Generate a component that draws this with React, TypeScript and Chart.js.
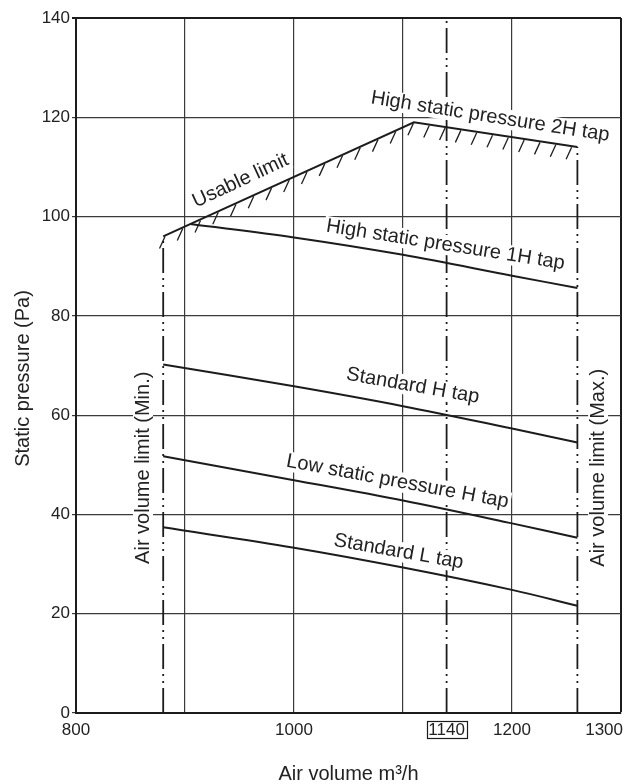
import React, { useEffect, useRef } from 'react';
import { Chart, registerables } from 'chart.js';

Chart.register(...registerables);

const FONT = '"Liberation Sans", Arial, Helvetica, sans-serif';
const INK = '#1c1c1c';
const TEXT = '#222222';
const GRID = '#3a3a3a';

// ---- data ----
const xMin = 800;
const xMax = 1300;
const xTickValues = [800, 900, 1000, 1100, 1140, 1200, 1300];
const xTickLabels = ['800', '', '1000', '', '1140', '1200', '1300'];
const boxedTick = 1140;
const yMin = 0;
const yMax = 140;
const yStep = 20;

const minAirVolume = 880;
const ratedAirVolume = 1140;
const maxAirVolume = 1260;

const usableLimitX = [880, 1110, 1260];
const usableLimitY = [96, 119, 114];

const tap1HX = [905, 1000, 1100, 1200, 1260];
const tap1HY = [98.5, 95.8, 92.3, 88.1, 85.6];

const tapX = [880, 1000, 1100, 1200, 1260];
const standardHY = [70.2, 65.8, 61.8, 57.3, 54.5];
const lowStaticHY = [51.7, 46.9, 42.8, 38.2, 35.3];
const standardLY = [37.4, 33.3, 29.3, 24.8, 21.6];

const curveLabels = [
  'Usable limit',
  'High static pressure 2H tap',
  'High static pressure 1H tap',
  'Standard H tap',
  'Low static pressure H tap',
  'Standard L tap',
  'Air volume limit (Min.)',
  'Air volume limit (Max.)',
];
const xTitle = 'Air volume m\u00B3/h';
const yTitle = 'Static pressure (Pa)';

// ---- layout of the annotation texts (anchor in axis units, angle in degrees) ----
const labelLayout = [
  { x: 951, y: 107.2, angle: -25 },
  { x: 1180, y: 120.1, angle: 9 },
  { x: 1139, y: 94.3, angle: 9 },
  { x: 1109, y: 65.9, angle: 10 },
  { x: 1095, y: 46.6, angle: 10.5 },
  { x: 1096, y: 32.5, angle: 10 },
  { x: 861.5, y: 49.4, angle: -90 },
  { x: 1279, y: 49.4, angle: -90 },
];

const DASH_DOT_DOT = [25, 5, 2, 5, 2, 5];

const pts = (xs: number[], ys: number[]) => xs.map((x, i) => ({ x, y: ys[i] }));

const curve = (xs: number[], ys: number[]) => ({
  data: pts(xs, ys),
  borderColor: INK,
  borderWidth: 2,
  pointRadius: 0,
  fill: false,
  tension: 0.35,
});

const vline = (xv: number, yTop: number) => ({
  data: [
    { x: xv, y: yMin },
    { x: xv, y: yTop },
  ],
  borderColor: INK,
  borderWidth: 1.8,
  borderDash: DASH_DOT_DOT,
  pointRadius: 0,
  fill: false,
  tension: 0,
});

const overlayPlugin = {
  id: 'overlay',
  afterDatasetsDraw(chart: any) {
    const { ctx, scales } = chart;
    const xs = scales.x;
    const ys = scales.y;

    // hatching under the usable limit
    const p = usableLimitX.map((v, i) => ({
      px: xs.getPixelForValue(v),
      py: ys.getPixelForValue(usableLimitY[i]),
    }));
    ctx.save();
    ctx.strokeStyle = INK;
    ctx.lineWidth = 1.3;
    ctx.lineCap = 'butt';
    const spacings = [19.5, 16];
    let start = 2;
    for (let s = 0; s < p.length - 1; s++) {
      const a = p[s];
      const b = p[s + 1];
      const L = Math.hypot(b.px - a.px, b.py - a.py);
      const sp = spacings[s] || 16;
      let d = start;
      for (; d <= L - 1; d += sp) {
        const t = d / L;
        const hx = a.px + (b.px - a.px) * t;
        const hy = a.py + (b.py - a.py) * t;
        ctx.beginPath();
        ctx.moveTo(hx, hy + 1);
        ctx.lineTo(hx - 5.5, hy + 13);
        ctx.stroke();
      }
      start = d - L;
    }
    ctx.restore();

    // annotation texts with white backing
    const size = 20;
    curveLabels.forEach((t, i) => {
      const l = labelLayout[i];
      const px = xs.getPixelForValue(l.x);
      const py = ys.getPixelForValue(l.y);
      ctx.save();
      ctx.translate(px, py);
      ctx.rotate((l.angle * Math.PI) / 180);
      ctx.font = `${size}px ${FONT}`;
      const w = ctx.measureText(t).width;
      ctx.fillStyle = '#ffffff';
      ctx.fillRect(-w / 2 - 2, -size * 0.5, w + 4, size);
      ctx.fillStyle = TEXT;
      ctx.textAlign = 'center';
      ctx.textBaseline = 'middle';
      ctx.fillText(t, 0, 0);
      ctx.restore();
    });
  },
  afterDraw(chart: any) {
    const { ctx, scales, chartArea } = chart;
    const xs = scales.x;
    const tickSize = 17;
    const labelCy = chartArea.bottom + 16.5;

    ctx.save();
    ctx.font = `${tickSize}px ${FONT}`;
    // boxed rated tick label
    const w = ctx.measureText(String(boxedTick)).width;
    const cx = xs.getPixelForValue(boxedTick);
    ctx.strokeStyle = INK;
    ctx.lineWidth = 1.2;
    ctx.strokeRect(Math.round(cx - w / 2 - 1.5) + 0.5, Math.round(labelCy - 8.5) + 0.5, Math.round(w + 3), 17);

    // last tick label, kept inside the picture (right-aligned at the plot edge)
    ctx.fillStyle = TEXT;
    ctx.textAlign = 'right';
    ctx.textBaseline = 'middle';
    ctx.fillText(xTickLabels[xTickLabels.length - 1], xs.getPixelForValue(xMax) + 2, labelCy + 1);
    ctx.restore();

    // axis titles
    ctx.save();
    ctx.fillStyle = TEXT;
    ctx.font = `20px ${FONT}`;
    ctx.textAlign = 'center';
    ctx.textBaseline = 'middle';
    ctx.fillText(xTitle, (chartArea.left + chartArea.right) / 2, chartArea.bottom + 61);
    ctx.translate(23, (chartArea.top + chartArea.bottom) / 2 + 13);
    ctx.rotate(-Math.PI / 2);
    ctx.fillText(yTitle, 0, 0);
    ctx.restore();
  },
};

export default function App() {
  const ref = useRef<HTMLCanvasElement | null>(null);

  useEffect(() => {
    if (!ref.current) return;
    const chart = new Chart(ref.current, {
      type: 'line',
      data: {
        datasets: [
          { ...curve(usableLimitX, usableLimitY), tension: 0 } as any,
          curve(tap1HX, tap1HY),
          curve(tapX, standardHY),
          curve(tapX, lowStaticHY),
          curve(tapX, standardLY),
          vline(minAirVolume, usableLimitY[0]),
          vline(ratedAirVolume, yMax),
          vline(maxAirVolume, usableLimitY[usableLimitY.length - 1]),
        ],
      },
      options: {
        responsive: false,
        animation: false,
        layout: { padding: { left: 0, right: 8, top: 18, bottom: 0 } },
        plugins: {
          legend: { display: false },
          tooltip: { enabled: false },
          title: { display: false },
        },
        scales: {
          x: {
            type: 'linear',
            min: xMin,
            max: xMax,
            afterBuildTicks: (s: any) => {
              s.ticks = xTickValues.map((v) => ({ value: v }));
            },
            afterFit: (s: any) => {
              s.height = 71;
              s.paddingLeft = 0;
              s.paddingRight = 0;
            },
            ticks: {
              autoSkip: false,
              maxRotation: 0,
              padding: 7,
              color: TEXT,
              font: { family: FONT, size: 17 },
              callback: (v: any) => {
                const n = Number(v);
                if (n === xMax) return '';
                const i = xTickValues.indexOf(n);
                return i >= 0 ? xTickLabels[i] : '';
              },
            },
            grid: {
              drawTicks: false,
              color: (c: any) =>
                c.tick && c.tick.value === ratedAirVolume ? 'rgba(0,0,0,0)' : c.tick && c.tick.value === xMax ? INK : GRID,
              lineWidth: (c: any) => (c.tick && c.tick.value === xMax ? 2 : 1.2),
            },
            border: { display: true, color: INK, width: 2 },
          },
          y: {
            type: 'linear',
            min: yMin,
            max: yMax,
            afterFit: (s: any) => {
              s.width = 76;
              s.paddingTop = 0;
              s.paddingBottom = 0;
            },
            ticks: {
              stepSize: yStep,
              padding: 2,
              color: TEXT,
              font: { family: FONT, size: 17 },
            },
            grid: {
              drawTicks: true,
              tickLength: 4,
              color: (c: any) => (c.tick && c.tick.value === yMax ? INK : GRID),
              lineWidth: (c: any) => (c.tick && c.tick.value === yMax ? 2 : 1.2),
            },
            border: { display: true, color: INK, width: 2 },
          },
        },
      },
      plugins: [overlayPlugin],
    });
    return () => chart.destroy();
  }, []);

  return (
    <div style={{ position: 'absolute', left: 0, top: 0, width: 629, height: 784, background: '#ffffff' }}>
      <canvas ref={ref} width={629} height={784} style={{ display: 'block', width: 629, height: 784 }} />
    </div>
  );
}
